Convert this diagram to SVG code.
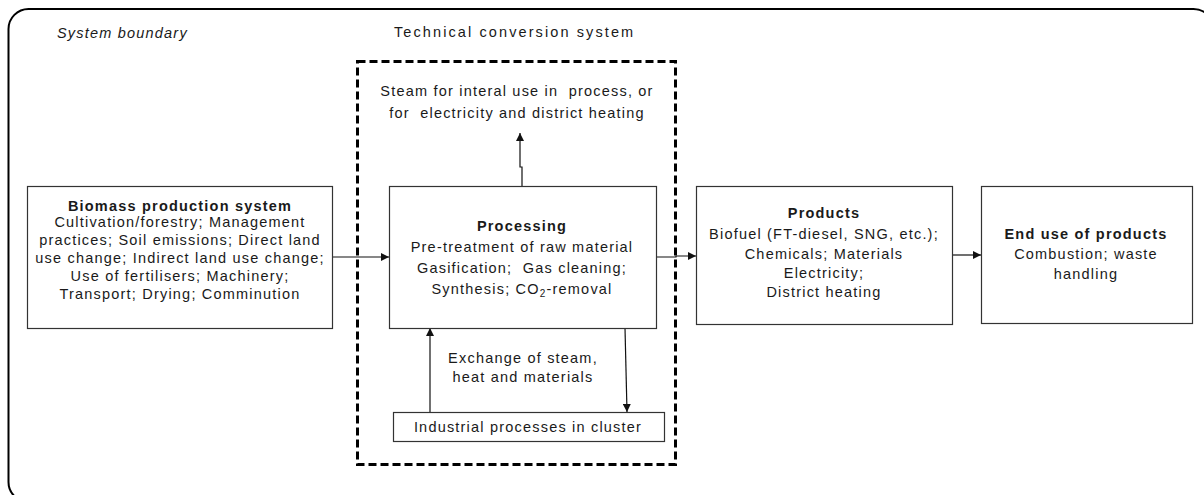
<svg xmlns="http://www.w3.org/2000/svg" width="1204" height="495" viewBox="0 0 1204 495">
<style>
text{font-family:"Liberation Sans",Arial,sans-serif;font-size:14.5px;fill:#1a1a1a;letter-spacing:1.2px;white-space:pre}
.c{text-anchor:middle}
.b{font-weight:bold}
.box{fill:#fff;stroke:#333;stroke-width:1.2}
.ln{fill:none;stroke:#111;stroke-width:1.2}
</style>
<defs>
<marker id="ah" viewBox="0 0 10 10" refX="10" refY="5" markerWidth="8" markerHeight="8" markerUnits="userSpaceOnUse" orient="auto">
<path d="M0,0 L10,5 L0,10 z" fill="#111"/>
</marker>
</defs>
<rect x="8.5" y="9" width="1205" height="493" rx="20" fill="#fff" stroke="#000" stroke-width="2"/>
<text x="57" y="38" font-style="italic">System boundary</text>
<text x="394" y="37" style="letter-spacing:2.1px">Technical conversion system</text>
<rect x="357.5" y="61.5" width="318" height="403" fill="none" stroke="#000" stroke-width="3" stroke-dasharray="8,4"/>
<g id="connectors">
<path class="ln" d="M522,186 V167 H520 V133" marker-end="url(#ah)"/>
<path class="ln" d="M332,257 H389" marker-end="url(#ah)"/>
<path class="ln" d="M656,257 H676 V256 H696" marker-end="url(#ah)"/>
<path class="ln" d="M952,255 H981" marker-end="url(#ah)"/>
<path class="ln" d="M430,412 V328" marker-end="url(#ah)"/>
<path class="ln" d="M625,328 L627,412" marker-end="url(#ah)"/>
</g>
<g id="steam">
<text x="517" y="96" class="c">Steam for interal use in  process, or</text>
<text x="517" y="118" class="c">for  electricity and district heating</text>
</g>
<g id="biomass">
<rect class="box" x="27.5" y="186.5" width="305" height="142"/>
<text x="180" y="211" class="c b">Biomass production system</text>
<text x="180" y="227" class="c">Cultivation/forestry; Management</text>
<text x="180" y="245" class="c">practices; Soil emissions; Direct land</text>
<text x="180" y="263" class="c">use change; Indirect land use change;</text>
<text x="180" y="281" class="c">Use of fertilisers; Machinery;</text>
<text x="180" y="299" class="c">Transport; Drying; Comminution</text>
</g>
<g id="processing">
<rect class="box" x="389.5" y="186.5" width="267" height="142"/>
<text x="522" y="231" class="c b">Processing</text>
<text x="522" y="252" class="c">Pre-treatment of raw material</text>
<text x="522" y="273" class="c">Gasification;  Gas cleaning;</text>
<text x="522" y="294" class="c">Synthesis; CO<tspan font-size="10" dy="3">2</tspan><tspan dy="-3">-removal</tspan></text>
</g>
<g id="products">
<rect class="box" x="696.5" y="186.5" width="256" height="138"/>
<text x="824" y="218" class="c b">Products</text>
<text x="824" y="239" class="c">Biofuel (FT-diesel, SNG, etc.);</text>
<text x="824" y="259" class="c">Chemicals; Materials</text>
<text x="824" y="278" class="c">Electricity;</text>
<text x="824" y="297" class="c">District heating</text>
</g>
<g id="enduse">
<rect class="box" x="981.5" y="186.5" width="211" height="137"/>
<text x="1086" y="239" class="c b">End use of products</text>
<text x="1086" y="259" class="c">Combustion; waste</text>
<text x="1086" y="279" class="c">handling</text>
</g>
<g id="exchange">
<text x="523" y="363" class="c">Exchange of steam,</text>
<text x="523" y="382" class="c">heat and materials</text>
</g>
<g id="industrial">
<rect class="box" x="393.5" y="412.5" width="271" height="29"/>
<text x="528" y="432" class="c">Industrial processes in cluster</text>
</g>
</svg>
